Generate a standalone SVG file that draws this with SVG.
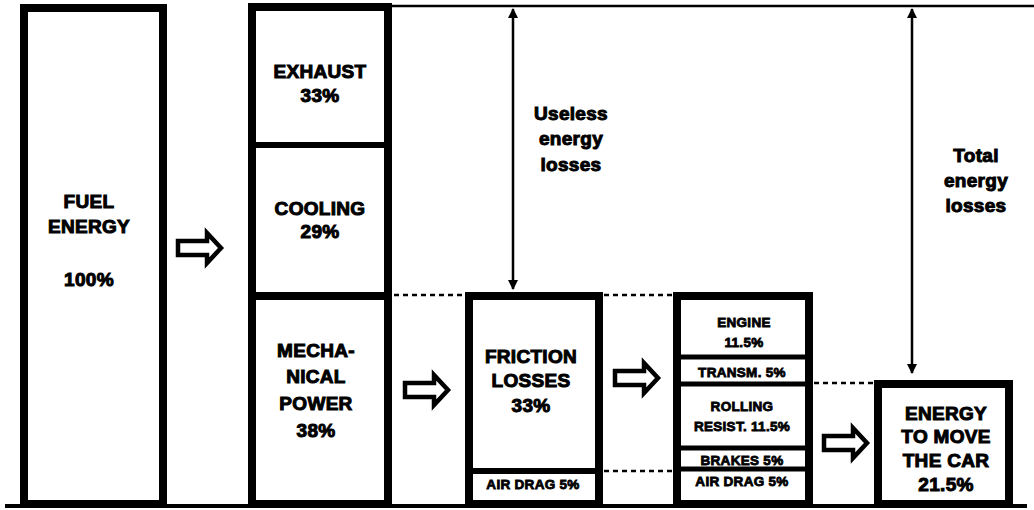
<svg xmlns="http://www.w3.org/2000/svg" width="1034" height="510" viewBox="0 0 1034 510">
<style>
.box{fill:#fff;stroke:#000;stroke-width:8}
.div{stroke:#000;stroke-width:6}
.t{font-family:"Liberation Sans",Arial,sans-serif;font-weight:bold;font-size:19px;text-anchor:middle;fill:#000;stroke:#000;stroke-width:1;letter-spacing:0.3px}
.s{font-size:13.5px;stroke-width:0.8}
.dot{stroke:#000;stroke-width:2.5;stroke-dasharray:5 4;fill:none}
.dim{stroke:#000;stroke-width:2.5;fill:none;marker-start:url(#ah);marker-end:url(#ah)}
.blk{fill:#fff;stroke:#000;stroke-width:4.5;stroke-linejoin:miter}
</style>
<defs>
<marker id="ah" viewBox="0 0 10 10" refX="9" refY="5" markerWidth="4" markerHeight="4" orient="auto-start-reverse" markerUnits="strokeWidth">
<path d="M0,0 L10,5 L0,10 Z" fill="#000"/>
</marker>
<path id="barrow" d="M2,-7 L31,-7 L31,-15 L45,0 L31,15 L31,7 L2,7 Z"/>
</defs>
<rect width="1034" height="510" fill="#fff"/>
<g id="connectors">
<line x1="392" y1="6" x2="1034" y2="6" stroke="#000" stroke-width="2.5"/>
<line class="dot" x1="394" y1="295" x2="466" y2="295"/>
<line class="dot" x1="604" y1="295" x2="673" y2="295"/>
<line class="dot" x1="604" y1="471" x2="673" y2="471"/>
<line class="dot" x1="814" y1="383" x2="874" y2="383"/>
<line class="dim" x1="513" y1="9" x2="513" y2="289"/>
<line class="dim" x1="912" y1="9" x2="912" y2="373"/>
<use href="#barrow" class="blk" transform="translate(176,248)"/>
<use href="#barrow" class="blk" transform="translate(403,390)"/>
<use href="#barrow" class="blk" transform="translate(613,378)"/>
<use href="#barrow" class="blk" transform="translate(822,443)"/>
<line x1="5" y1="506" x2="1027" y2="506" stroke="#000" stroke-width="4"/>
</g>
<g id="fuel">
<rect class="box" x="24" y="8" width="139" height="496"/>
<text class="t" x="89" y="208">FUEL</text>
<text class="t" x="89" y="233">ENERGY</text>
<text class="t" x="89" y="286">100%</text>
</g>
<g id="engine-out">
<rect class="box" x="252" y="7" width="136" height="497"/>
<line class="div" x1="252" y1="145" x2="388" y2="145"/>
<line class="div" x1="252" y1="296" x2="388" y2="296" style="stroke-width:8"/>
<text class="t" x="320" y="78">EXHAUST</text>
<text class="t" x="320" y="102">33%</text>
<text class="t" x="320" y="215">COOLING</text>
<text class="t" x="320" y="238">29%</text>
<text class="t" x="316" y="357">MECHA-</text>
<text class="t" x="316" y="383">NICAL</text>
<text class="t" x="316" y="410">POWER</text>
<text class="t" x="316" y="437">38%</text>
</g>
<g id="friction">
<rect class="box" x="469" y="296" width="130" height="208"/>
<line class="div" x1="469" y1="471" x2="599" y2="471"/>
<text class="t" x="531" y="363">FRICTION</text>
<text class="t" x="531" y="387">LOSSES</text>
<text class="t" x="531" y="412">33%</text>
<text class="t s" x="533" y="489">AIR DRAG 5%</text>
</g>
<g id="breakdown">
<rect class="box" x="677" y="296" width="132" height="208"/>
<line class="div" x1="677" y1="357" x2="809" y2="357" style="stroke-width:5"/>
<line class="div" x1="677" y1="384" x2="809" y2="384" style="stroke-width:5"/>
<line class="div" x1="677" y1="448" x2="809" y2="448" style="stroke-width:5"/>
<line class="div" x1="677" y1="469" x2="809" y2="469" style="stroke-width:5"/>
<text class="t s" x="744" y="327">ENGINE</text>
<text class="t s" x="744" y="347">11.5%</text>
<text class="t s" x="742" y="377">TRANSM. 5%</text>
<text class="t s" x="742" y="411">ROLLING</text>
<text class="t s" x="742" y="431">RESIST. 11.5%</text>
<text class="t s" x="742" y="465">BRAKES 5%</text>
<text class="t s" x="742" y="486">AIR DRAG 5%</text>
</g>
<g id="move">
<rect class="box" x="878" y="384" width="131" height="120"/>
<text class="t" x="946" y="420">ENERGY</text>
<text class="t" x="946" y="443">TO MOVE</text>
<text class="t" x="946" y="467">THE CAR</text>
<text class="t" x="946" y="491">21.5%</text>
</g>
<g id="labels">
<text class="t" x="571" y="120">Useless</text>
<text class="t" x="571" y="145">energy</text>
<text class="t" x="571" y="171">losses</text>
<text class="t" x="976" y="162">Total</text>
<text class="t" x="976" y="187">energy</text>
<text class="t" x="976" y="212">losses</text>
</g>
</svg>
